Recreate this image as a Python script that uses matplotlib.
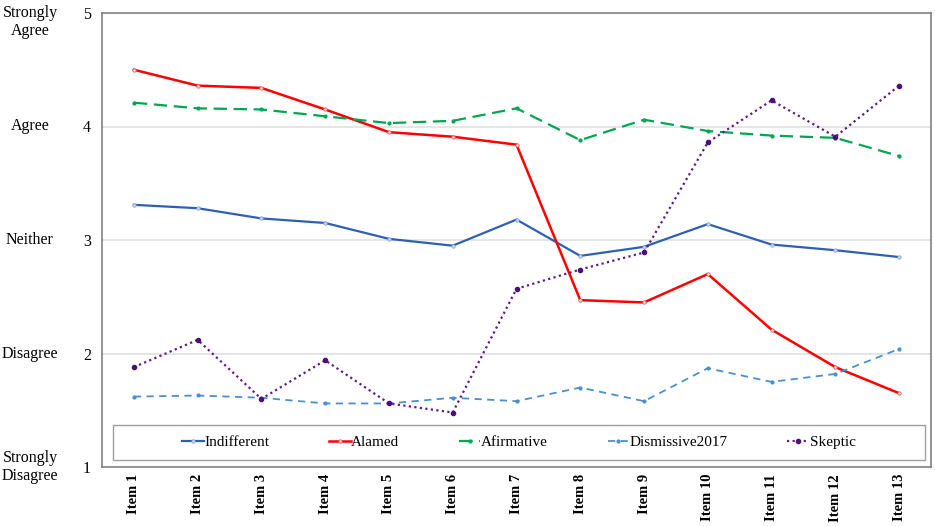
import matplotlib.pyplot as plt
import numpy as np
from matplotlib.patches import Rectangle

plt.rcParams['font.family'] = ['Liberation Serif', 'DejaVu Serif']

items = ['Item 1', 'Item 2', 'Item 3', 'Item 4', 'Item 5', 'Item 6', 'Item 7',
         'Item 8', 'Item 9', 'Item 10', 'Item 11', 'Item 12', 'Item 13']

indifferent = [3.31, 3.28, 3.19, 3.15, 3.01, 2.95, 3.18, 2.86, 2.94, 3.14, 2.96, 2.91, 2.85]
alarmed = [4.50, 4.36, 4.34, 4.15, 3.95, 3.91, 3.84, 2.47, 2.45, 2.70, 2.21, 1.88, 1.65]
afirmative = [4.21, 4.16, 4.15, 4.09, 4.03, 4.05, 4.16, 3.88, 4.06, 3.96, 3.92, 3.90, 3.74]
dismissive = [1.62, 1.63, 1.61, 1.56, 1.56, 1.61, 1.58, 1.70, 1.58, 1.87, 1.75, 1.82, 2.04]
skeptic = [1.88, 2.12, 1.60, 1.94, 1.56, 1.48, 2.57, 2.74, 2.89, 3.86, 4.23, 3.91, 4.36]

scale_labels = ['Strongly\nDisagree', 'Disagree', 'Neither', 'Agree', 'Strongly\nAgree']
scale_ticks = [1, 2, 3, 4, 5]

fig = plt.figure(figsize=(9.35, 5.27), dpi=100)
ax = fig.add_axes([102 / 935, 60 / 527, 829 / 935, 454 / 527])

x = np.arange(len(items))

ax.plot(x, indifferent, color='#2F5FB5', lw=1.6, marker='o', ms=2.5,
        mfc='#C8D4EE', mec='#7F9BD0', mew=0.5, label='Indifferent')
ax.plot(x, alarmed, color='#FF0000', lw=1.8, marker='o', ms=2.5,
        mfc='#FBD0D0', mec='#E05050', mew=0.5, label='Alamed')
ax.plot(x, afirmative, color='#00A651', lw=1.6, ls=(0, (6, 3)), marker='o', ms=2,
        mfc='#00A651', mec='#00A651', label='Afirmative')
ax.plot(x, dismissive, color='#4A90D0', lw=1.3, ls=(0, (4, 3)), marker='o', ms=2,
        mfc='#4A90D0', mec='#4A90D0', label='Dismissive2017')
ax.plot(x, skeptic, color='#5A1E8C', lw=1.6, ls=(0, (1, 1.5)), marker='o', ms=3,
        mfc='#4B0F7A', mec='#4B0F7A', label='Skeptic')

ax.set_xlim(-0.5, len(items) - 0.5)
ax.set_ylim(1, 5)
ax.set_yticks(scale_ticks)
ax.set_yticklabels([str(v) for v in scale_ticks], fontsize=11.5)
ax.set_xticks(x)
ax.set_xticklabels(items, rotation=90, fontsize=10.5, fontweight='bold')
ax.tick_params(axis='y', length=0, pad=8)
ax.tick_params(axis='x', length=0, pad=5)

for v in [2, 3, 4]:
    ax.axhline(v, color='#E0E0E0', lw=1.2, zorder=0)

for s in ax.spines.values():
    s.set_color('#808080')
    s.set_linewidth(1.2)

# agreement scale labels to the left of the numbers
trans = ax.get_yaxis_transform()
for v, lab in zip(scale_ticks, scale_labels):
    if v == 5:
        ax.text(-72 / 829, 5.07, lab, transform=trans, fontsize=11.5,
                ha='center', va='top', linespacing=1.2)
    else:
        ax.text(-72 / 829, v, lab, transform=trans, fontsize=11.5,
                ha='center', va='center', linespacing=1.2)

# legend box
ax.add_patch(Rectangle((0.013, 0.015), 0.98, 0.078, transform=ax.transAxes,
                       fill=False, edgecolor='#A0A0A0', lw=1.0, zorder=5))
leg = ax.legend(ncol=5, loc='center', bbox_to_anchor=(0.503, 0.054),
                fontsize=11, frameon=False, handlelength=1.4,
                handletextpad=0.05, columnspacing=3.9, borderaxespad=0)

fig.savefig('out.png', dpi=100)
